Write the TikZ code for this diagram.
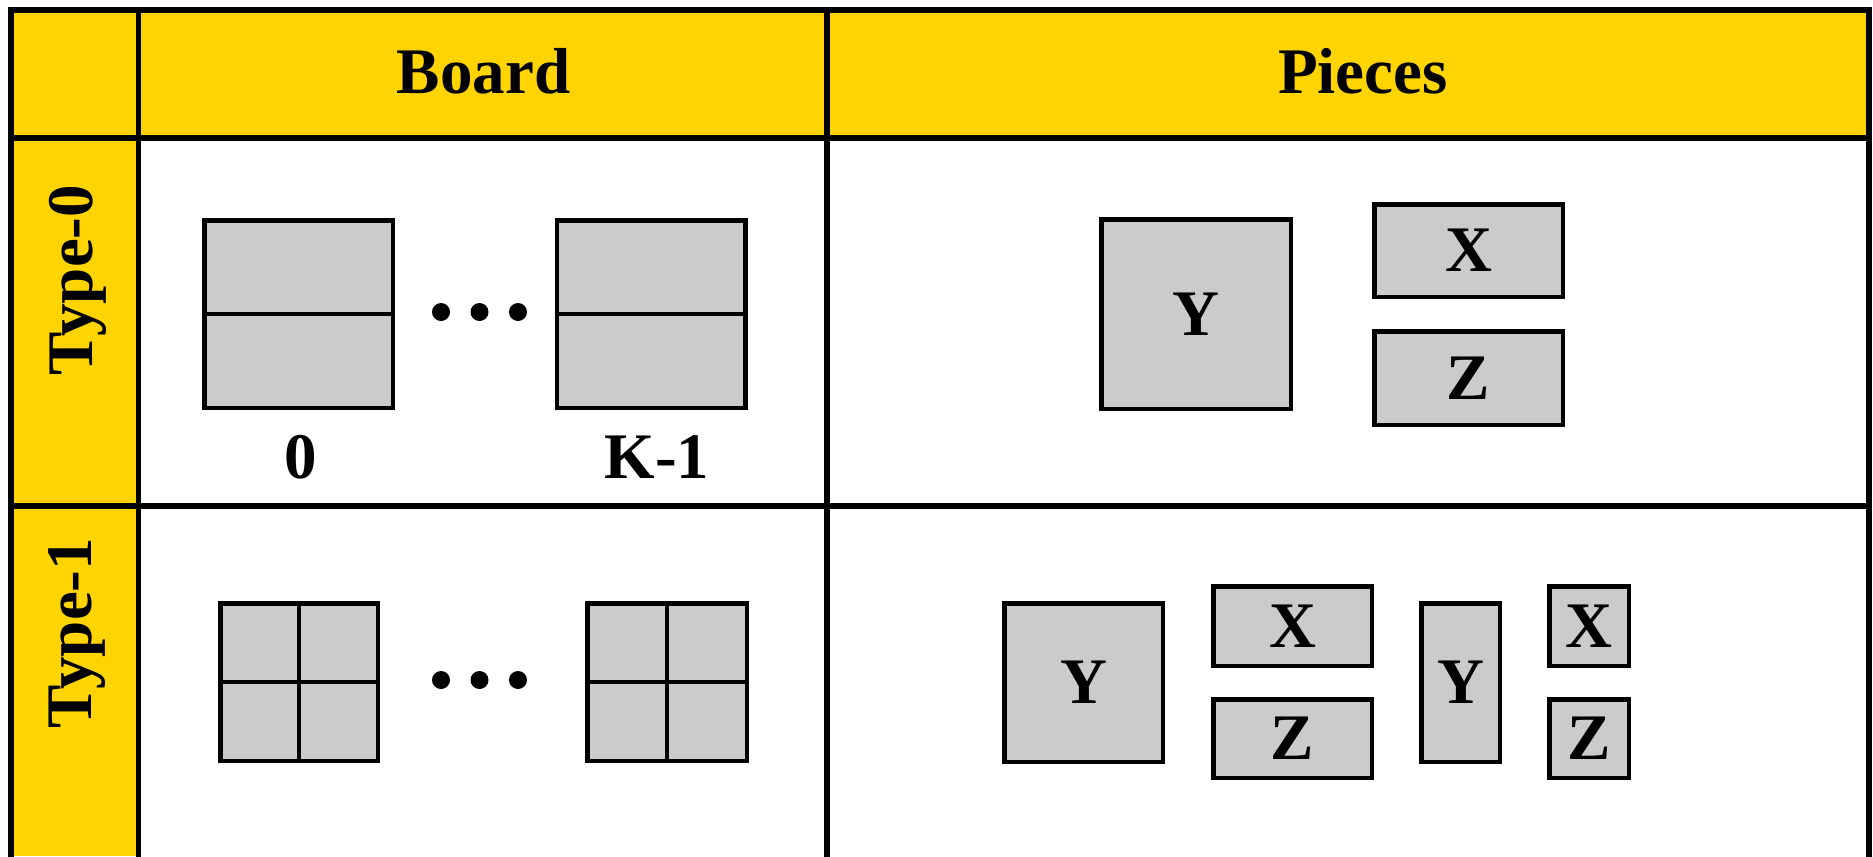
\documentclass[tikz,border=0pt]{standalone}
\usepackage{fontspec}
\setmainfont{Liberation Serif}
\definecolor{hdr}{HTML}{FFD400}
\definecolor{cellgray}{HTML}{CBCBCB}

\begin{document}
\begin{tikzpicture}[x=0.4pt,y=-0.4pt,
  grid/.style={line width=2.2pt, line cap=rect},
  tile/.style n args={2}{draw, line width=1.8pt, fill=cellgray, inner sep=0pt,
    minimum width={(#1-4.5)*0.4pt}, minimum height={(#2-4.5)*0.4pt},
    font=\fontsize{26}{30}\selectfont\bfseries},
  lbl/.style={font=\fontsize{26}{30}\selectfont\bfseries, inner sep=0pt},
  bdot/.style={circle, fill, inner sep=0pt, minimum size=7.2pt},
  divline/.style={line width=1.8pt}]

\useasboundingbox (0,0) rectangle (1873,856);

% header row and first column
\fill[hdr] (11,10) rectangle (1869,138);
\fill[hdr] (11,138) rectangle (138.5,856);

% table rules
\coordinate (tl) at (11,10);
\coordinate (tr) at (1869,10);
\coordinate (bl) at (11,856);
\coordinate (br) at (1869,856);
\coordinate (c1t) at (138.5,10);
\coordinate (c1b) at (138.5,856);
\coordinate (c2t) at (827,10);
\coordinate (c2b) at (827,856);
\coordinate (h1l) at (11,138);
\coordinate (h1r) at (1869,138);
\coordinate (h2l) at (11,506);
\coordinate (h2r) at (1869,506);
\draw[grid] (bl) -- (tl) -- (tr) -- (br);
\draw[grid] (c1t) -- (c1b);
\draw[grid] (c2t) -- (c2b);
\draw[grid] (h1l) -- (h1r);
\draw[grid] (h2l) -- (h2r);

% headings
\node[lbl, anchor=base] (board) at (483.5,93) {Board};
\node[lbl, anchor=base] (pieces) at (1363,93) {Pieces};
\node[lbl, rotate=90, anchor=base] (type0) at (92,280) {Type-0};
\node[lbl, rotate=90, anchor=base] (type1) at (91,633) {Type-1};

% Type-0 boards
\node[tile={193}{192}] (b0a) at (298.5,314) {};
\draw[divline] (b0a.west) -- (b0a.east);
\node[tile={193}{192}] (b0b) at (651,314) {};
\draw[divline] (b0b.west) -- (b0b.east);
\node[bdot] (d0a) at (441,312) {};
\node[bdot] (d0b) at (479.5,312) {};
\node[bdot] (d0c) at (518,312) {};
\node[lbl, anchor=base] (n0) at (301,478) {0};
\node[lbl, anchor=base] (nk) at (657,478) {K-1};

% Type-0 pieces
\node[tile={194}{194}] (p0y) at (1196,314) {Y};
\node[tile={193}{97}] (p0x) at (1468.5,250.5) {X};
\node[tile={193}{98}] (p0z) at (1468.5,378) {Z};

% Type-1 boards
\node[tile={162}{162}] (b1a) at (299,682) {};
\draw[divline] (b1a.west) -- (b1a.east);
\draw[divline] (b1a.north) -- (b1a.south);
\node[tile={164}{162}] (b1b) at (667,682) {};
\draw[divline] (b1b.west) -- (b1b.east);
\draw[divline] (b1b.north) -- (b1b.south);
\node[bdot] (d1a) at (441,680) {};
\node[bdot] (d1b) at (479.5,680) {};
\node[bdot] (d1c) at (518,680) {};

% Type-1 pieces
\node[tile={163}{163}] (p1y) at (1083.5,682.5) {Y};
\node[tile={163}{84}] (p1x) at (1292.5,626) {X};
\node[tile={163}{83}] (p1z) at (1292.5,738.5) {Z};
\node[tile={83}{163}] (p1yn) at (1460.5,682.5) {Y};
\node[tile={84}{84}] (p1xs) at (1589,626) {X};
\node[tile={84}{83}] (p1zs) at (1589,738.5) {Z};

\end{tikzpicture}
\end{document}
